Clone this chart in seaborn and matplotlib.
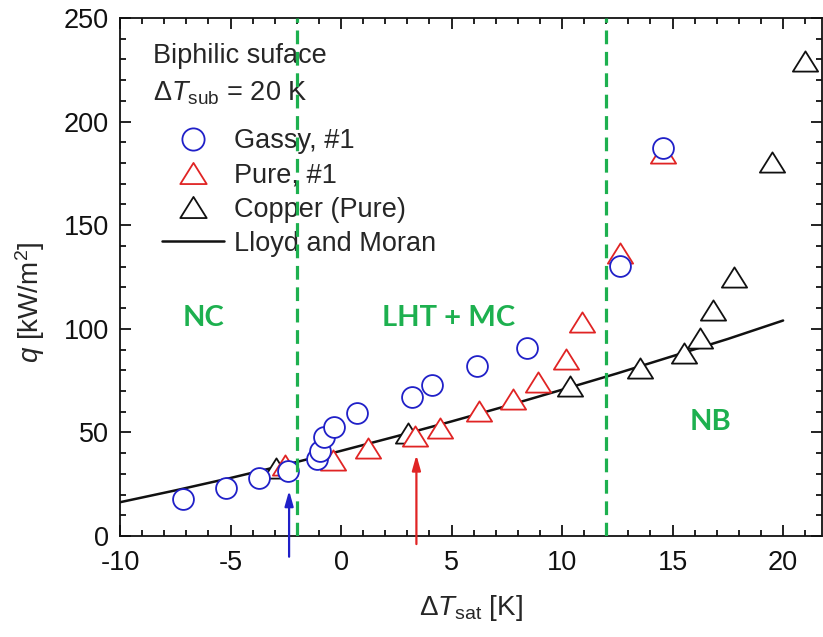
import numpy as np
import pandas as pd
import matplotlib
matplotlib.use("Agg")
import matplotlib.pyplot as plt
from matplotlib.path import Path
from matplotlib.lines import Line2D
from matplotlib.ticker import MultipleLocator
import seaborn as sns

# ---------------- data ----------------
gassy_x = [-7.15, -5.22, -3.71, -2.40, -1.09, -0.96, -0.78, -0.33, 0.70, 3.21, 4.12, 6.17, 8.43, 12.64, 14.57]
gassy_y = [17.7, 23.0, 27.8, 31.5, 37.0, 41.0, 47.6, 52.8, 59.5, 67.2, 72.7, 82.0, 90.9, 130.4, 187.4]

pure_x = [-2.55, -0.36, 1.22, 3.33, 4.47, 6.23, 7.78, 8.91, 10.20, 10.88, 12.64, 14.57]
pure_y = [34.3, 36.7, 42.3, 48.4, 52.0, 60.5, 66.1, 74.5, 85.4, 103.1, 136.4, 184.7]

copper_x = [-2.92, 3.03, 10.35, 13.52, 15.52, 16.23, 16.83, 17.77, 19.50, 21.01]
copper_y = [32.7, 49.7, 72.4, 80.9, 88.5, 95.7, 109.1, 125.1, 180.7, 229.4]

lm_x = [-10, -7.5, -5, -2.5, 0, 2.5, 5, 7.5, 10, 12.5, 15, 17.5, 20]
lm_y = [16.3, 22.0, 28.0, 34.4, 41.1, 48.1, 55.3, 62.8, 70.6, 78.5, 86.8, 95.1, 104.0]

regime_bounds = [-2, 12]
regime_labels = ["NC", "LHT + MC", "NB"]
regime_label_x = [-6.21, 4.87, 16.72]
regime_label_y = [105.2, 105.2, 54.8]

arrow_x = [-2.35, 3.41]
arrow_tip_y = [21.9, 39.1]
arrow_base_y = [-10.0, -3.9]

x_ticks = [-10, -5, 0, 5, 10, 15, 20]
y_ticks = [0, 50, 100, 150, 200, 250]

# ---------------- style ----------------
sns.set_theme(style="ticks")
plt.rcParams["font.family"] = ["Liberation Sans", "DejaVu Sans"]
plt.rcParams["mathtext.fontset"] = "custom"
plt.rcParams["mathtext.rm"] = "Liberation Sans"
plt.rcParams["mathtext.it"] = "Liberation Sans:italic"
plt.rcParams["mathtext.bf"] = "Liberation Sans:bold"

BLUE = "#2020c8"
RED = "#e02424"
BLACK = "#111111"
GREEN = "#1db04f"

FS = 19.5

fig = plt.figure(figsize=(8.23, 6.37), dpi=100)
ax = fig.add_axes([120 / 823, 1 - 536 / 637, 702 / 823, 518 / 637])

tri = Path([(0, 0.8), (-1, -0.8), (1, -0.8), (0, 0.8)],
           [Path.MOVETO, Path.LINETO, Path.LINETO, Path.CLOSEPOLY])

df_lm = pd.DataFrame({"x": lm_x, "y": lm_y})
df_g = pd.DataFrame({"x": gassy_x, "y": gassy_y})
df_p = pd.DataFrame({"x": pure_x, "y": pure_y})
df_c = pd.DataFrame({"x": copper_x, "y": copper_y})

sns.lineplot(data=df_lm, x="x", y="y", ax=ax, color=BLACK, lw=1.8, zorder=2, legend=False)
sns.scatterplot(data=df_c, x="x", y="y", ax=ax, marker=tri, s=330, facecolor="white",
                edgecolor=BLACK, linewidth=1.3, zorder=3, legend=False)
sns.scatterplot(data=df_p, x="x", y="y", ax=ax, marker=tri, s=330, facecolor="white",
                edgecolor=RED, linewidth=1.3, zorder=4, legend=False)
sns.scatterplot(data=df_g, x="x", y="y", ax=ax, marker="o", s=225, facecolor="white",
                edgecolor=BLUE, linewidth=1.3, zorder=5, legend=False)

for xb in regime_bounds:
    ax.axvline(xb, color=GREEN, lw=2.3, dashes=(4.3, 2.4), zorder=6)

for lab, lx, ly in zip(regime_labels, regime_label_x, regime_label_y):
    ax.text(lx, ly, lab, color=GREEN, fontsize=21, fontweight="bold",
            family=["Lato", "DejaVu Sans"], ha="center", va="center", zorder=7)

for ax_x, tip, base, col in zip(arrow_x, arrow_tip_y, arrow_base_y, [BLUE, RED]):
    ax.annotate("", xy=(ax_x, tip), xytext=(ax_x, base),
                arrowprops=dict(arrowstyle="-|>,head_length=0.6,head_width=0.17",
                                color=col, lw=1.6, shrinkA=0, shrinkB=0,
                                mutation_scale=15),
                annotation_clip=False, zorder=8)

# text block
ax.text(-8.51, 228.3, "Biphilic suface", fontsize=FS, ha="left", va="baseline")
ax.text(-8.51, 210.4, r"$\Delta T_{\mathrm{sub}}$ = 20 K", fontsize=FS, ha="left", va="baseline")

handles = [
    Line2D([], [], ls="none", marker="o", ms=16, mfc="white", mec=BLUE, mew=1.3),
    Line2D([], [], ls="none", marker=tri, ms=19, mfc="white", mec=RED, mew=1.3),
    Line2D([], [], ls="none", marker=tri, ms=19, mfc="white", mec=BLACK, mew=1.3),
    Line2D([], [], color=BLACK, lw=1.8),
]
labels = ["Gassy, #1", "Pure, #1", "Copper (Pure)", "Lloyd and Moran"]
leg = ax.legend(handles, labels, loc="upper left", bbox_to_anchor=(0.0598, 0.787),
                frameon=False, fontsize=FS, handlelength=2.3, handletextpad=0.35,
                labelspacing=0.30, borderpad=0, borderaxespad=0)
leg.set_zorder(1)

# axes
ax.set_xlim(-10, 21.76)
ax.set_ylim(0, 250)
ax.set_xticks(x_ticks)
ax.set_yticks(y_ticks)
ax.set_xticklabels([str(v) for v in x_ticks])
ax.set_yticklabels([str(v) for v in y_ticks])
ax.xaxis.set_minor_locator(MultipleLocator(1))
ax.yaxis.set_minor_locator(MultipleLocator(10))
ax.tick_params(which="both", direction="in", top=True, right=True, colors=BLACK,
               labelsize=FS, width=1.3)
ax.tick_params(which="major", length=8, pad=8)
ax.tick_params(which="minor", length=4)
ax.tick_params(axis="x", which="major", pad=10)
for sp in ax.spines.values():
    sp.set_visible(True)
    sp.set_linewidth(1.3)
    sp.set_color(BLACK)

ax.set_xlabel(r"$\Delta T_{\mathrm{sat}}$ [K]", fontsize=FS + 0.5, labelpad=12)
ax.set_ylabel(r"$q$ [kW/m$^2$]", fontsize=FS + 0.5)
ax.yaxis.set_label_coords(-0.104, 0.452)

fig.savefig("out.png", dpi=100)
